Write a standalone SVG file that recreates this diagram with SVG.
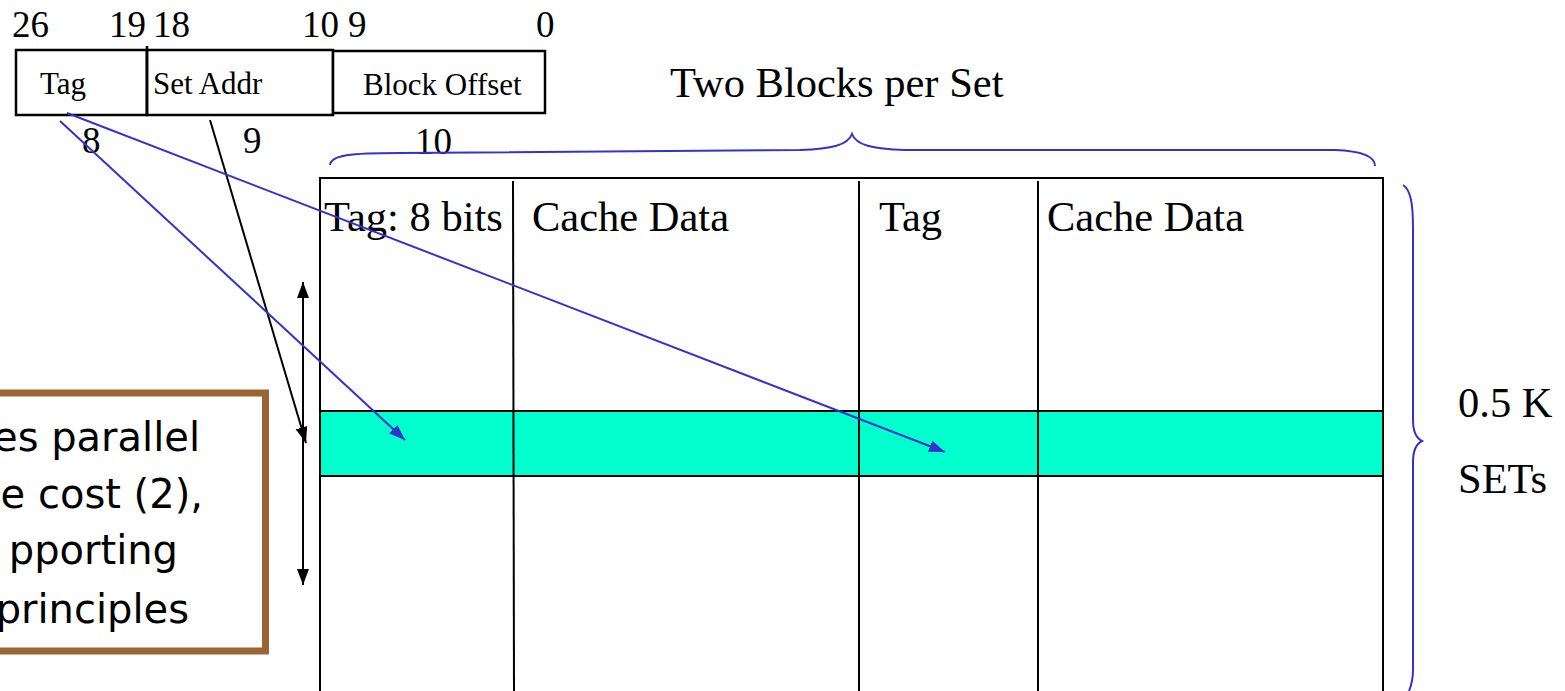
<svg xmlns="http://www.w3.org/2000/svg" width="1565" height="691" viewBox="0 0 1565 691">
<style>
.serif{font-family:"Liberation Serif","Times New Roman",serif;fill:#000}
.num{font-size:37px}
.fld{font-size:31px}
.big{font-size:42.5px}
.note{font-family:"DejaVu Sans",Verdana,sans-serif;font-size:40px;fill:#000}
.bx{fill:#fff;stroke:#000;stroke-width:2.5}
.grid{stroke:#000;stroke-width:2;fill:none}
.blue{stroke:#3333CC;stroke-width:2;fill:none}
.blk{stroke:#000;stroke-width:2;fill:none}
</style>
<defs>
<marker id="ab" markerUnits="userSpaceOnUse" markerWidth="18" markerHeight="14" refX="16" refY="6" orient="auto">
<path d="M0,0 L16,6 L0,12 z" fill="#3333CC"/>
</marker>
<marker id="ak" markerUnits="userSpaceOnUse" markerWidth="18" markerHeight="14" refX="16" refY="6" orient="auto-start-reverse">
<path d="M0,0 L16,6 L0,12 z" fill="#000"/>
</marker>
</defs>
<rect width="1565" height="691" fill="#fff"/>

<g id="address">
<rect class="bx" x="16" y="50" width="131" height="65"/>
<rect class="bx" x="147" y="50" width="186" height="65"/>
<rect class="bx" x="333" y="51" width="212" height="62"/>
<line x1="147" y1="46" x2="147" y2="115" stroke="#000" stroke-width="2.5"/>
<text class="serif fld" x="40" y="94">Tag</text>
<text class="serif fld" x="153" y="94">Set Addr</text>
<text class="serif fld" x="363" y="95">Block Offset</text>
<text class="serif num" x="12" y="37">26</text>
<text class="serif num" x="109" y="37">19</text>
<text class="serif num" x="153" y="37">18</text>
<text class="serif num" x="302" y="37">10</text>
<text class="serif num" x="348" y="37">9</text>
<text class="serif num" x="536" y="37">0</text>
<text class="serif num" x="82" y="153">8</text>
<text class="serif num" x="243" y="153">9</text>
<text class="serif num" x="415" y="154">10</text>
</g>

<g id="title">
<text class="serif big" x="670" y="97">Two Blocks per Set</text>
</g>

<g id="cache">
<rect x="320" y="411" width="1063" height="65" fill="#00FFCC"/>
<path class="grid" d="M320,691 L320,178 L1383,178 L1383,691"/>
<line class="grid" x1="320" y1="411" x2="1383" y2="411"/>
<line class="grid" x1="320" y1="476" x2="1383" y2="476"/>
<line class="grid" x1="513" y1="181" x2="514" y2="691"/>
<line class="grid" x1="859" y1="181" x2="859" y2="691"/>
<line class="grid" x1="1038" y1="181" x2="1038" y2="691"/>
<text class="serif big" x="324" y="231">Tag: 8 bits</text>
<text class="serif big" x="532" y="231">Cache Data</text>
<text class="serif big" x="879" y="231">Tag</text>
<text class="serif big" x="1047" y="231">Cache Data</text>
</g>

<g id="sets">
<text class="serif big" x="1458" y="417">0.5 K</text>
<text class="serif big" x="1458" y="493">SETs</text>
</g>

<g id="note">
<rect x="-20" y="393" width="285.5" height="258" fill="#fff" stroke="#996633" stroke-width="7"/>
<text class="note" x="200" y="451" text-anchor="end">es parallel</text>
<text class="note" x="203" y="508" text-anchor="end">e cost (2),</text>
<text class="note" x="178" y="564" text-anchor="end">pporting</text>
<text class="note" x="189" y="623" text-anchor="end">principles</text>
</g>

<g id="connectors">
<path class="blue" d="M330,165 C331,155 350,153 400,153 L800,150 C832,149 848,145 852,134 C856,145 872,149 905,150 L1335,150 C1362,151 1375,156 1375,166"/>
<path class="blue" d="M1403,185 C1411,190 1413,205 1413,228 L1413,420 C1413,432 1416,438 1422,441 C1416,444 1413,450 1413,462 L1413,670 C1413,680 1411,686 1409,691"/>
<line class="blk" x1="303" y1="282" x2="303" y2="585" marker-start="url(#ak)" marker-end="url(#ak)"/>
<line class="blk" x1="210" y1="120" x2="306" y2="443" marker-end="url(#ak)"/>
<line class="blue" x1="60" y1="121" x2="405" y2="440" marker-end="url(#ab)"/>
<line class="blue" x1="67" y1="113" x2="945" y2="452" marker-end="url(#ab)"/>
</g>
</svg>
